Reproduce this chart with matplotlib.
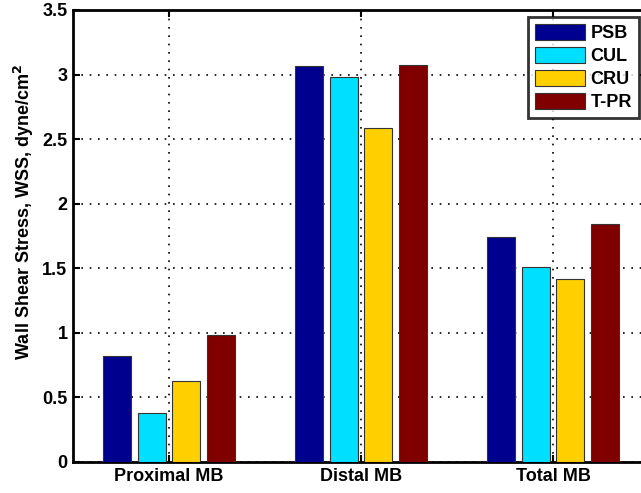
import matplotlib
matplotlib.use("Agg")
import matplotlib.pyplot as plt
import numpy as np

categories = ["Proximal MB", "Distal MB", "Total MB"]
series_names = ["PSB", "CUL", "CRU", "T-PR"]
psb = [0.82, 3.07, 1.74]
cul = [0.38, 2.98, 1.51]
cru = [0.63, 2.59, 1.42]
tpr = [0.98, 3.075, 1.845]
yticks = [0, 0.5, 1, 1.5, 2, 2.5, 3, 3.5]
ytick_labels = ["0", "0.5", "1", "1.5", "2", "2.5", "3", "3.5"]

colors = ["#00008F", "#00DFFF", "#FFCF00", "#800000"]

plt.rcParams["font.family"] = ["Liberation Sans", "DejaVu Sans"]
plt.rcParams["font.weight"] = "bold"

W, H = 641, 493
fig = plt.figure(figsize=(W / 100, H / 100), dpi=100)
left, right, top, bottom = 73, 649, 10, 462
ax = fig.add_axes([left / W, 1 - bottom / H, (right - left) / W, (bottom - top) / H])

x = np.arange(1, len(categories) + 1)
width = 0.146
step = 0.182
offsets = (np.arange(4) - 1.5) * step
for vals, name, c, off in zip([psb, cul, cru, tpr], series_names, colors, offsets):
    ax.bar(x + off, vals, width=width, color=c, edgecolor="#333333",
           linewidth=0.8, label=name, zorder=3)

ax.set_xlim(0.5, 3.5)
ax.set_ylim(0, 3.5)
ax.set_xticks(x)
ax.set_xticklabels(categories, fontsize=13, fontweight="bold")
ax.set_yticks(yticks)
ax.set_yticklabels(ytick_labels, fontsize=13, fontweight="bold")
ax.tick_params(direction="in", length=5, width=1.5, top=True, right=True, pad=4)
ax.grid(True, linestyle=(0, (1, 4)), color="black", linewidth=1.2, zorder=0)
ax.set_axisbelow(True)
for s in ax.spines.values():
    s.set_linewidth(2)
ax.set_ylabel("Wall Shear Stress, WSS, dyne/cm$\\mathbf{^2}$", fontsize=13,
              fontweight="bold")
ax.yaxis.set_label_coords((36 - left) / (right - left), (bottom - 212) / (bottom - top))

leg = ax.legend(loc="upper right", bbox_to_anchor=(639 / W, 1 - 17 / H),
                bbox_transform=fig.transFigure, fontsize=13, frameon=True,
                fancybox=False, edgecolor="black", handlelength=2.75,
                handleheight=1.0, handletextpad=0.3, labelspacing=0.25,
                borderpad=0.4, borderaxespad=0)
leg.get_frame().set_linewidth(2)
for t in leg.get_texts():
    t.set_fontweight("bold")

fig.savefig("out.png", dpi=100)
